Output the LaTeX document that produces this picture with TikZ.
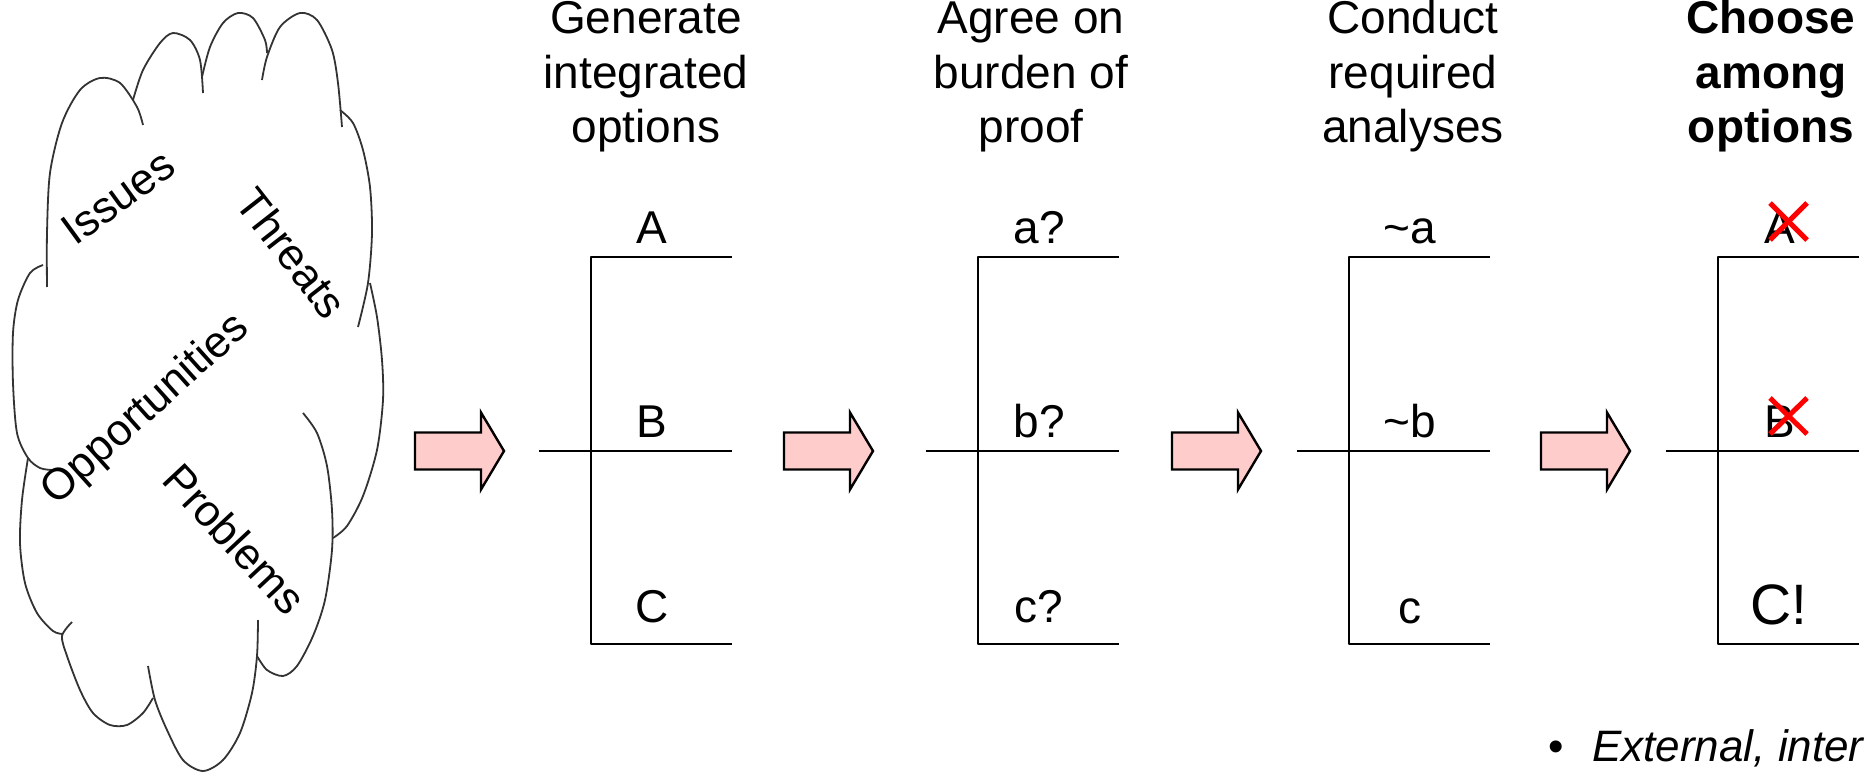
\documentclass[tikz,border=0pt]{standalone}
\usepackage{fontspec}
\setmainfont{Liberation Sans}
\definecolor{arrowpink}{RGB}{255,204,204}
\begin{document}
\begin{tikzpicture}[x=1pt,y=-1pt,
  treeline/.style={line width=2.6, line join=round},
  lbl/.style={font=\fontsize{46}{54.5}\selectfont, anchor=base, inner sep=0},
  hdr/.style={font=\fontsize{46}{54.5}\selectfont, align=center, anchor=base, inner sep=0},
  cloudline/.style={draw=black!80, line width=1.8},
  cloudtxt/.style={font=\fontsize{44}{50}\selectfont, inner sep=0},
  blockarr/.style={draw=black, line width=2.4, fill=arrowpink, line join=miter},
  xmark/.style={draw=red, line width=5},
  pics/blockarrow/.style={code={
    \draw[blockarr] (0,-18.5) -- (66,-18.5) -- (66,-38.5) -- (89,0) -- (66,38.5) -- (66,18.5) -- (0,18.5) -- cycle;}}
]
\useasboundingbox (0,0) rectangle (1875,773);

% ---- cloud ----
\begin{scope}[cloudline]
\draw plot[smooth] coordinates {(47,287) (47,233) (50,173) (62,123) (80,90) (100,78) (120,83) (137,107) (143,125)};
\draw plot[smooth] coordinates {(133,100) (143,70) (160,43) (173,33) (190,40) (200,60) (203,93)};
\draw plot[smooth] coordinates {(202,77) (210,47) (223,23) (238,13) (253,18) (265,40) (267,53)};
\draw plot[smooth] coordinates {(262,80) (267,57) (280,27) (300,13) (317,20) (332,50) (338,83) (342,127)};
\draw plot[smooth] coordinates {(340,110) (353,123) (363,150) (370,187) (372,233) (368,283) (358,327)};
\draw plot[smooth] coordinates {(370,283) (377,317) (382,360) (383,400) (377,450) (363,496) (347,526) (333,538)};
\draw plot[smooth] coordinates {(303,413) (317,433) (327,466) (332,510) (332,550) (325,600) (313,636) (297,666) (283,676) (267,670) (257,656)};
\draw plot[smooth] coordinates {(258,620) (257,656) (252,693) (240,733) (223,760) (203,771) (183,760) (167,730) (155,700) (148,666)};
\draw plot[smooth] coordinates {(153,698) (143,713) (127,725) (110,725) (93,713) (80,690) (67,656) (62,636) (72,622)};
\draw plot[smooth] coordinates {(28,458) (22,500) (20,543) (25,583) (37,613) (53,631) (63,634)};
\draw plot[smooth] coordinates {(43,265) (30,273) (18,300) (13,333) (13,383) (17,433) (28,458) (40,468) (52,470)};
\end{scope}
\node[cloudtxt, rotate=36] (issues) at (118,197) {Issues};
\node[cloudtxt, rotate=-52] (threats) at (292,253) {Threats};
\node[cloudtxt, rotate=42] (opps) at (146,410) {Opportunities};
\node[cloudtxt, rotate=-47] (probs) at (235,539) {Problems};

% ---- headers (anchor = baseline of last line) ----
\node[hdr] (h1) at (646,143) {Generate\\integrated\\options};
\node[hdr] (h2) at (1031,143) {Agree on\\burden of\\proof};
\node[hdr] (h3) at (1413,143) {Conduct\\required\\analyses};
\node[hdr, font=\fontsize{46}{54.5}\selectfont\bfseries] (h4) at (1771,143) {Choose\\among\\options};

% ---- arrows ----
\pic at (415,451) {blockarrow};
\pic at (784,451) {blockarrow};
\pic at (1172,451) {blockarrow};
\pic at (1541,451) {blockarrow};

% ---- trees ----
\foreach \i/\X in {1/591,2/978,3/1349,4/1718}{
  \coordinate (t\i tl) at (\X,257);
  \coordinate (t\i tr) at (\X+141,257);
  \coordinate (t\i ml) at (\X-52,451);
  \coordinate (t\i mr) at (\X+141,451);
  \coordinate (t\i bl) at (\X,644);
  \coordinate (t\i br) at (\X+141,644);
  \draw[treeline] (t\i tr) -- (t\i tl) -- (t\i bl) -- (t\i br);
  \draw[treeline] (t\i ml) -- (t\i mr);
}

% ---- labels ----
\node[lbl] (l1a) at (652,243) {A};
\node[lbl] (l1b) at (652,437) {B};
\node[lbl] (l1c) at (652,622) {C};
\node[lbl] (l2a) at (1039,243) {a?};
\node[lbl] (l2b) at (1039,437) {b?};
\node[lbl] (l2c) at (1039,622) {c?};
\node[lbl] (l3a) at (1410,243) {\textasciitilde a};
\node[lbl] (l3b) at (1410,437) {\textasciitilde b};
\node[lbl] (l3c) at (1410,623) {c};
\node[lbl] (l4a) at (1780,243) {A};
\node[lbl] (l4b) at (1780,437) {B};
\node[lbl, font=\fontsize{57}{60}\selectfont] (l4c) at (1779,624) {C!};

% ---- red crosses ----
\draw[xmark] (1770,203) -- (1807,240);
\draw[xmark] (1807,203) -- (1770,240);
\draw[xmark] (1770,398) -- (1807,434);
\draw[xmark] (1807,398) -- (1770,434);

% ---- bottom text ----
\node[anchor=base west, inner sep=0, font=\fontsize{44}{50}\selectfont] (bul) at (1548,761) {•};
\node[anchor=base west, inner sep=0, font=\fontsize{44}{50}\selectfont\itshape] (ext) at (1592,761) {External, inter};
\end{tikzpicture}
\end{document}
